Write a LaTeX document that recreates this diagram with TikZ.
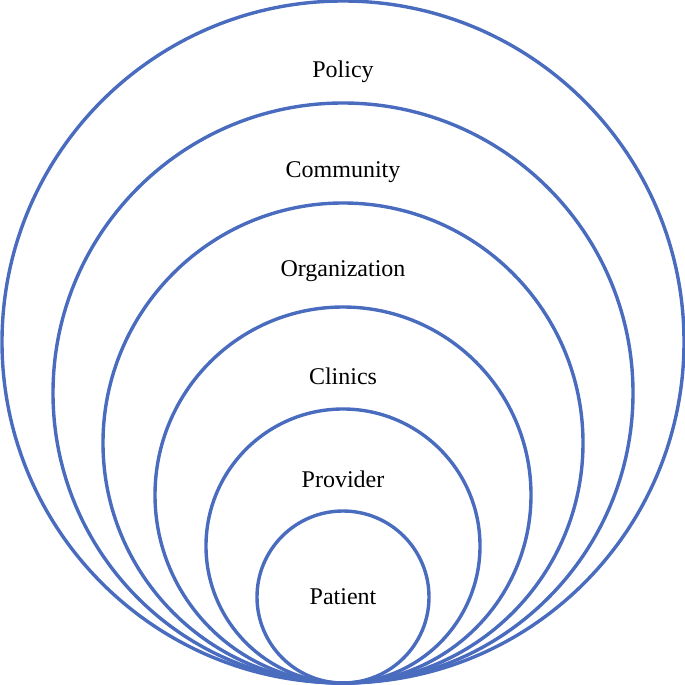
\documentclass[tikz,border=0pt]{standalone}
\usepackage{fontspec}
\setmainfont{Liberation Serif}
\usetikzlibrary{positioning,calc}
\definecolor{ringblue}{HTML}{4A6CBF}

\begin{document}
\begin{tikzpicture}[x=1pt,y=-1pt,font=\fontsize{24}{29}\selectfont]
  \tikzstyle{ring}=[draw=ringblue,line width=3.4pt,circle,inner sep=0pt]
  \tikzstyle{lvl}=[inner sep=0pt,text=black]
  \useasboundingbox (0,0) rectangle (685,685);
  \coordinate (base) at (343,683);
  % nested rings, all touching at the bottom point
  \foreach \r/\name/\txt/\dy in {341/policy/Policy/72, 290/community/Community/71,
      240/organization/Organization/70, 188/clinics/Clinics/71,
      137/provider/Provider/72, 86/patient/Patient/87}{
    \node[ring,minimum size=2*\r pt] (\name) at ($(base)+(0,-\r)$) {};
    \node[lvl] (\name-txt) at ($(\name.north)+(0,\dy)$) {\txt};
  }
\end{tikzpicture}
\end{document}
